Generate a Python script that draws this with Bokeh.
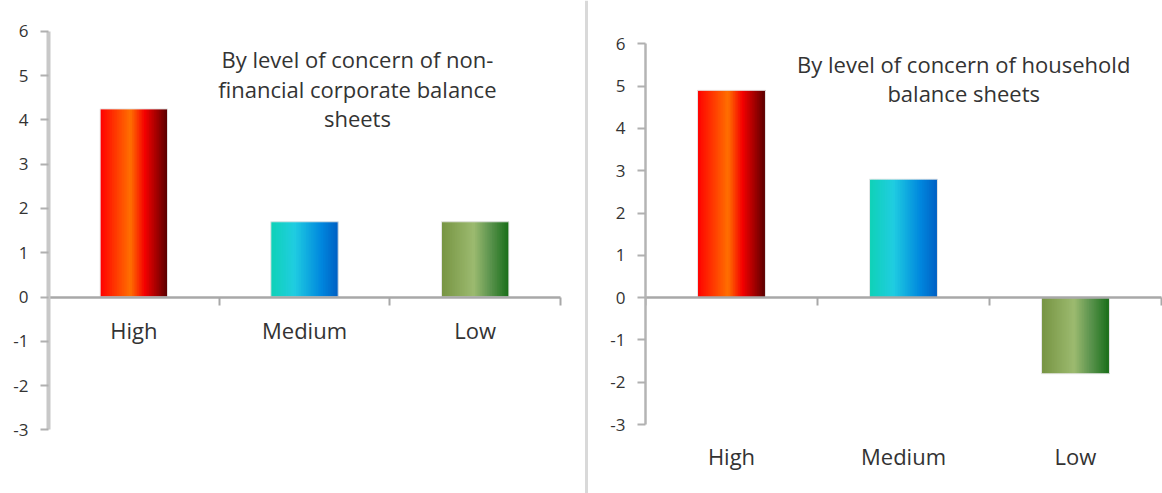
import numpy as np
from bokeh.plotting import figure
from bokeh.models import Range1d, FixedTicker, LinearAxis, Span
from bokeh.layouts import row
from bokeh.embed import file_html
from bokeh.resources import INLINE

# ---------------- data ----------------
categories = ["High", "Medium", "Low"]
corporate = [4.25, 1.7, 1.7]
household = [4.9, 2.8, -1.8]
y_ticks = [-3, -2, -1, 0, 1, 2, 3, 4, 5, 6]
title_left = "By level of concern of non-\nfinancial corporate balance\nsheets"
title_right = "By level of concern of household\nbalance sheets"

# gradient stops (position, rgb) per category, left to right across each bar
gradients = [
    [(0.0, (255, 0, 0)), (0.45, (255, 112, 0)), (0.66, (245, 0, 0)), (1.0, (88, 0, 0))],
    [(0.0, (15, 210, 182)), (0.35, (32, 205, 225)), (0.75, (0, 135, 222)), (1.0, (0, 95, 195))],
    [(0.0, (118, 148, 66)), (0.48, (156, 186, 112)), (0.72, (92, 148, 78)), (1.0, (24, 110, 24))],
]

FONT = "Open Sans"
TXT = "#333333"
BAR_W = 0.395
N_STRIPS = 40


def interp(stops, t):
    for (p0, c0), (p1, c1) in zip(stops[:-1], stops[1:]):
        if p0 <= t <= p1:
            f = (t - p0) / (p1 - p0)
            return "#%02x%02x%02x" % tuple(int(round(a + (b - a) * f)) for a, b in zip(c0, c1))
    return "#%02x%02x%02x" % stops[-1][1]


def draw_bars(p, values):
    lefts, rights, tops, cols = [], [], [], []
    w = BAR_W / N_STRIPS
    for i, v in enumerate(values):
        x0 = i + 0.5 - BAR_W / 2
        for k in range(N_STRIPS):
            t = (k + 0.5) / N_STRIPS
            lefts.append(x0 + k * w)
            rights.append(min(x0 + (k + 2) * w, x0 + BAR_W))
            tops.append(v)
            cols.append(interp(gradients[i], t))
    p.quad(left=lefts, right=rights, top=tops, bottom=0,
           fill_color=cols, line_color=None)
    # faint light outline round each bar
    p.quad(left=[i + 0.5 - BAR_W / 2 for i in range(len(values))],
           right=[i + 0.5 + BAR_W / 2 for i in range(len(values))],
           top=values, bottom=0, fill_color=None, line_color="#e6e6e6", line_width=1)


def make_panel(values, frame_w, frame_h, px_cat, px_unit, zero_px, border_left,
               border_bottom, axis_col, axis_w, labels_at_zero):
    x_end = frame_w / px_cat
    y_end = zero_px / px_unit
    y_start = y_end - frame_h / px_unit
    p = figure(frame_width=frame_w, frame_height=frame_h,
               x_range=Range1d(0, x_end), y_range=Range1d(y_start, y_end),
               output_backend="svg", toolbar_location=None,
               min_border_left=border_left, min_border_right=0,
               min_border_top=0, min_border_bottom=border_bottom)
    p.outline_line_color = None
    p.grid.visible = False
    p.background_fill_color = "white"
    p.border_fill_color = "white"

    draw_bars(p, values)

    # y axis
    ya = p.yaxis[0]
    ya.ticker = FixedTicker(ticks=y_ticks)
    ya.major_label_overrides = {t: str(t) for t in y_ticks}
    ya.bounds = (min(y_ticks), max(y_ticks))
    ya.axis_line_color = axis_col
    ya.axis_line_width = axis_w
    ya.major_tick_line_color = "#b0b0b0"
    ya.major_tick_line_width = 2
    ya.major_tick_out = 8
    ya.major_tick_in = 0
    ya.minor_tick_line_color = None
    ya.major_label_standoff = 12
    ya.major_label_text_font = FONT
    ya.major_label_text_font_size = "17px"
    ya.major_label_text_color = TXT

    # category axis on the zero line
    centers = [i + 0.5 for i in range(len(categories))]
    bounds = list(range(len(categories) + 1))
    xa = p.xaxis[0]
    xa.fixed_location = 0
    xa.bounds = (0, len(categories))
    xa.axis_line_color = "#a8a8a8"
    xa.axis_line_width = 2.5
    xa.major_tick_line_color = None
    xa.minor_tick_line_color = "#a8a8a8"
    xa.minor_tick_line_width = 2
    xa.minor_tick_out = 8
    xa.minor_tick_in = 0
    if labels_at_zero:
        xa.ticker = FixedTicker(ticks=centers, minor_ticks=bounds)
        xa.major_label_overrides = {c: n for c, n in zip(centers, categories)}
        xa.major_label_standoff = 10
        xa.major_label_text_font = FONT
        xa.major_label_text_font_size = "22px"
        xa.major_label_text_color = TXT
    else:
        xa.ticker = FixedTicker(ticks=[], minor_ticks=bounds)
        la = LinearAxis(ticker=FixedTicker(ticks=centers),
                        major_label_overrides={c: n for c, n in zip(centers, categories)})
        la.axis_line_color = None
        la.major_tick_line_color = None
        la.minor_tick_line_color = None
        la.major_label_standoff = 4
        la.major_label_text_font = FONT
        la.major_label_text_font_size = "22px"
        la.major_label_text_color = TXT
        p.add_layout(la, "below")
    return p


# left panel: corporate
p1 = make_panel(corporate, frame_w=540, frame_h=493, px_cat=170.67, px_unit=44.26,
                zero_px=296.5, border_left=48, border_bottom=0,
                axis_col="#c8c8c8", axis_w=4, labels_at_zero=True)
p1.text(x=[1.81], y=[5.71], text=[title_left], text_align="center", text_baseline="top",
        text_font={"value": FONT}, text_font_size={"value": "22px"},
        text_color=TXT, text_line_height=0.98)
p1.add_layout(Span(location=538 / 170.67, dimension="height", line_color="#d9d9d9",
                   line_width=3))

# right panel: household
p2 = make_panel(household, frame_w=517, frame_h=430, px_cat=172.0, px_unit=42.3,
                zero_px=297.1, border_left=57, border_bottom=63,
                axis_col="#b4b4b4", axis_w=2.5, labels_at_zero=False)
p2.text(x=[1.85], y=[5.88], text=[title_right], text_align="center", text_baseline="top",
        text_font={"value": FONT}, text_font_size={"value": "22px"},
        text_color=TXT, text_line_height=0.98)

layout = row(p1, p2, spacing=0)
open("out.html", "w").write(file_html(layout, INLINE))
